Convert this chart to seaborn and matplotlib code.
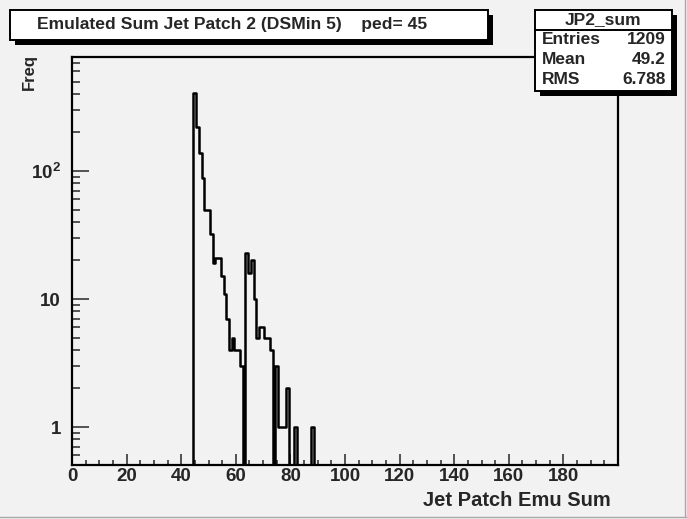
import matplotlib
matplotlib.use("Agg")
import matplotlib.pyplot as plt
from matplotlib.patches import Rectangle
from matplotlib.lines import Line2D
from matplotlib.ticker import FixedLocator, MultipleLocator, LogLocator, NullFormatter
import numpy as np
import pandas as pd
import seaborn as sns

# emulated jet patch sums (bin centres) and their counts
jp_sum = [45, 46, 47, 48, 49, 50, 51, 52, 53, 54, 55, 56, 57, 58, 59, 60, 61, 62,
          64, 65, 66, 67, 68, 69, 70, 71, 72, 73, 75, 76, 77, 78, 79, 82, 88]
freq = [405, 222, 139, 88, 50, 50, 32, 19, 21, 21, 15, 11, 7, 4, 5, 4, 4, 3,
        23, 16, 20, 10, 5, 6, 6, 5, 5, 4, 3, 1, 1, 1, 2, 1, 1]

x_ticks = [0, 20, 40, 60, 80, 100, 120, 140, 160, 180]
y_ticks = [1, 10, 100]
y_tick_labels = ["1", "10", r"$\mathbf{10^{2}}$"]

title = "Emulated Sum Jet Patch 2 (DSMin 5)    ped= 45"
stats_name = "JP2_sum"
stats_rows = [("Entries", "1209"), ("Mean", "49.2"), ("RMS", "6.788")]

W, H = 687, 519
BG = "#f2f2f2"

sns.set_theme(style="ticks")
plt.rcParams.update({
    "font.family": ["Liberation Sans", "DejaVu Sans"],
    "font.weight": "bold",
    "mathtext.fontset": "custom",
    "mathtext.rm": "Liberation Sans:bold",
    "mathtext.bf": "Liberation Sans:bold",
    "axes.facecolor": BG,
    "figure.facecolor": BG,
})


def fx(px):
    return px / W


def fy(py):
    return 1 - py / H


df = pd.DataFrame({"sum": jp_sum, "freq": freq})
bin_edges = [b - 0.5 for b in range(0, 202)]

fig = plt.figure(figsize=(W / 100, H / 100), dpi=100)
ax = fig.add_axes([fx(72), fy(465), fx(618) - fx(72), fy(57) - fy(465)])

sns.histplot(data=df, x="sum", weights="freq", bins=bin_edges,
             element="step", fill=False, color="black", linewidth=1.8, ax=ax)
ax.set_yscale("log", nonpositive="clip")
ax.set_xlim(0, 200)
ax.set_ylim(0.505, 777)

# axes styling, ROOT-like
for side, sp in ax.spines.items():
    sp.set_visible(True)
    sp.set_linewidth(1.6)
    sp.set_color("black")

ax.xaxis.set_major_locator(FixedLocator(x_ticks))
ax.xaxis.set_minor_locator(MultipleLocator(5))
ax.set_xticklabels([str(t) for t in x_ticks])
ax.yaxis.set_major_locator(FixedLocator(y_ticks))
ax.set_yticklabels(y_tick_labels)
ax.yaxis.set_minor_locator(LogLocator(base=10, subs=np.arange(2, 10)))
ax.yaxis.set_minor_formatter(NullFormatter())

ax.tick_params(axis="x", which="major", direction="in", length=8, width=1.1,
               labelsize=13.5, pad=2, top=False)
ax.tick_params(axis="x", which="minor", direction="in", length=3.8, width=1.1, top=False)
ax.tick_params(axis="y", which="major", direction="in", length=12, width=1.1,
               labelsize=13.5, pad=8, right=False)
ax.tick_params(axis="y", which="minor", direction="in", length=6, width=1.1, right=False)
for lab in ax.get_xticklabels() + ax.get_yticklabels():
    lab.set_fontweight("bold")
ax.set_xlabel("")
ax.set_ylabel("")
ax.grid(False)

fig.text(fx(611), fy(500), "Jet Patch Emu Sum", ha="right", va="center",
         fontsize=14.5, fontweight="bold")
fig.text(fx(29.5), fy(54), "Freq", ha="center", va="top", rotation=90,
         fontsize=12, fontweight="bold")


def box(x0, y0, x1, y1, shadow=5):
    fig.patches.append(Rectangle((fx(x0 + shadow), fy(y1 + shadow)),
                                 fx(x1 - x0), fy(y0) - fy(y1),
                                 transform=fig.transFigure, facecolor="black",
                                 edgecolor="black", lw=0, zorder=5))
    fig.patches.append(Rectangle((fx(x0), fy(y1)), fx(x1 - x0), fy(y0) - fy(y1),
                                 transform=fig.transFigure, facecolor="white",
                                 edgecolor="black", lw=1.4, zorder=6))


# title box
box(9.5, 9.5, 488, 40, shadow=5)
fig.text(fx(37), fy(25), title, ha="left", va="center", fontsize=12.6,
         fontweight="bold", zorder=7)

# stats box
box(535, 9.5, 672, 90.5, shadow=5)
fig.lines.append(Line2D([fx(535), fx(672)], [fy(29.5), fy(29.5)],
                        transform=fig.transFigure, color="black", lw=1.4, zorder=7))
fig.text(fx(603.5), fy(19.5), stats_name, ha="center", va="center",
         fontsize=12.5, fontweight="bold", zorder=7)
for i, (name, val) in enumerate(stats_rows):
    yy = fy(40 + i * 19.5)
    fig.text(fx(542), yy, name, ha="left", va="center", fontsize=12.5,
             fontweight="bold", zorder=7)
    fig.text(fx(666), yy, val, ha="right", va="center", fontsize=12.5,
             fontweight="bold", zorder=7)

# canvas bevel
fig.lines.append(Line2D([0, 1], [fy(516.5), fy(516.5)], transform=fig.transFigure,
                        color="#a8a8a8", lw=1))
fig.lines.append(Line2D([fx(684.5), fx(684.5)], [fy(516.5), 1], transform=fig.transFigure,
                        color="#a8a8a8", lw=1))

fig.savefig("out.png", dpi=100, facecolor=BG)
